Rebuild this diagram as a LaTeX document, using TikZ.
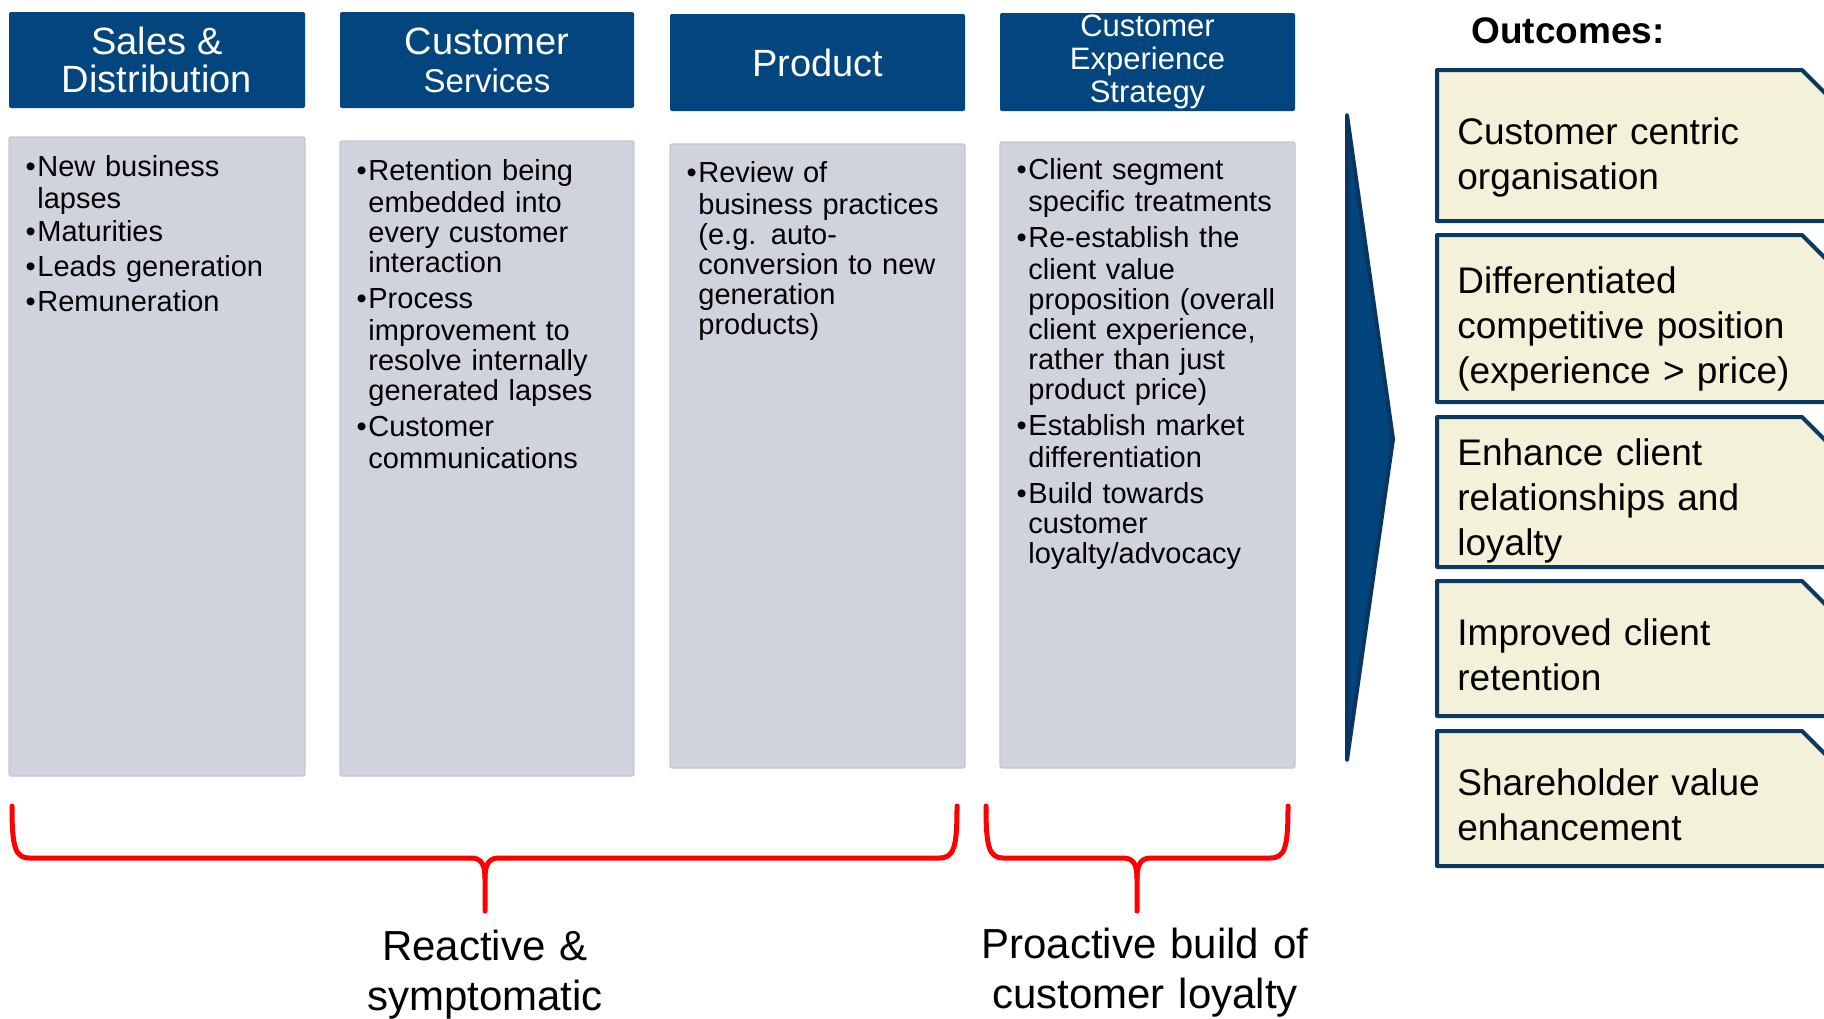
\documentclass[tikz,border=0pt]{standalone}
\usepackage{fontspec}
\setmainfont{Liberation Sans}

\definecolor{hdrblue}{HTML}{03467F}
\definecolor{bodygray}{HTML}{D0D3DD}
\definecolor{bodyedge}{HTML}{C4C7D1}
\definecolor{cream}{HTML}{F3F1D8}
\definecolor{navyline}{HTML}{0C3962}
\definecolor{arrowfill}{HTML}{02457D}
\definecolor{arrowline}{HTML}{0B3561}
\definecolor{bracered}{HTML}{FF0000}

% one bullet paragraph with a hanging indent
\newcommand\bitem[1]{\noindent\hangindent=14pt\hangafter=1\makebox[14pt][r]{\textbullet\hspace{0.8pt}}\strut#1\par}

\begin{document}
\begin{tikzpicture}[x=0.5pt,y=-0.5pt,
  hdr/.style={fill=hdrblue, rounded corners=1pt, inner sep=0pt, text=white,
    align=center, font=\fontsize{19}{19}\selectfont},
  colbox/.style={fill=bodygray, draw=bodyedge, line width=0.6pt, rounded corners=1pt, inner sep=0pt},
  bullets/.style={anchor=north west, inner sep=0pt, text width=150pt,
    font=\fontsize{14.5}{15}\selectfont},
  outbox/.style={fill=cream, draw=navyline, line width=2pt, line join=round},
  outtext/.style={anchor=north west, inner sep=0pt, text width=185pt,
    font=\fontsize{18.5}{22.5}\selectfont},
  bracepath/.style={draw=bracered, line width=2.5pt, line cap=round, line join=round},
  bracelabel/.style={anchor=north, inner sep=0pt, text width=200pt, align=center,
    font=\fontsize{21}{25}\selectfont}]

\useasboundingbox (0,0) rectangle (1824,1018);
\fill[white] (0,0) rectangle (1824,1018);
\clip (0,0) rectangle (1824,1018);

% column headers
\node[hdr, minimum width=148pt, minimum height=48pt] (h1) at (157,60) {Sales \&\\Distribution};
\node[hdr, minimum width=147pt, minimum height=48pt] (h2) at (487,60)
  {Customer\\\fontsize{16.5}{17}\selectfont Services};
\node[hdr, minimum width=147.5pt, minimum height=48.5pt] (h3) at (817.5,62.5) {Product};
\node[hdr, minimum width=147.5pt, minimum height=49pt, font=\fontsize{15.5}{16.5}\selectfont]
  (h4) at (1147.5,62) {Customer\\Experience\\Strategy};

% column bodies
\node[colbox, minimum width=148pt, minimum height=319.5pt] (b1) at (157,456.5) {};
\node[colbox, minimum width=147pt, minimum height=317.5pt] (b2) at (487,458.5) {};
\node[colbox, minimum width=147.5pt, minimum height=312pt] (b3) at (817.5,456) {};
\node[colbox, minimum width=147.5pt, minimum height=313pt] (b4) at (1147.5,455) {};

\node[bullets] (t1) at (9,155) {\setlength{\parskip}{1.5pt}%
  \bitem{New business\newline lapses}%
  \bitem{Maturities}%
  \bitem{Leads generation}%
  \bitem{Remuneration}};
\node[bullets] (t2) at (340,159) {\setlength{\parskip}{3pt}%
  \bitem{Retention being\newline embedded into\newline every customer\newline interaction}%
  \bitem{Process\newline improvement to\newline resolve internally\newline generated lapses}%
  \bitem{Customer\newline communications}};
\node[bullets] (t3) at (670,161) {\setlength{\parskip}{3pt}%
  \bitem{Review of\newline business practices\newline (e.g. auto-\newline conversion to new\newline generation\newline products)}};
\node[bullets] (t4) at (1000,158) {\setlength{\parskip}{3pt}%
  \bitem{Client segment\newline specific treatments}%
  \bitem{Re-establish the\newline client value\newline proposition (overall\newline client experience,\newline rather than just\newline product price)}%
  \bitem{Establish market\newline differentiation}%
  \bitem{Build towards\newline customer\newline loyalty/advocacy}};

% arrow towards the outcomes
\filldraw[fill=arrowfill, draw=arrowline, line width=2pt, line join=round]
  (1347,115) -- (1393,439) -- (1347,760) -- cycle;

% outcomes
\node[anchor=base, inner sep=0pt, font=\bfseries\fontsize{18.5}{20}\selectfont] (otitle) at (1568,43) {Outcomes:};

\draw[outbox] (1437,70) -- (1802,70) -- (1852,120) -- (1852,221) -- (1437,221) -- cycle;
\draw[outbox] (1437,235) -- (1802,235) -- (1852,285) -- (1852,402) -- (1437,402) -- cycle;
\draw[outbox] (1437,417) -- (1802,417) -- (1852,467) -- (1852,567) -- (1437,567) -- cycle;
\draw[outbox] (1437,581) -- (1802,581) -- (1852,631) -- (1852,716) -- (1437,716) -- cycle;
\draw[outbox] (1437,731) -- (1802,731) -- (1852,781) -- (1852,866) -- (1437,866) -- cycle;

\node[outtext] (o1) at (1457,112.5) {\strut Customer centric\newline organisation};
\node[outtext] (o2) at (1457,261.5) {\strut Differentiated\newline competitive position\newline (experience > price)};
\node[outtext] (o3) at (1457,433.5) {\strut Enhance client\newline relationships and\newline loyalty};
\node[outtext] (o4) at (1457,613.5) {\strut Improved client\newline retention};
\node[outtext] (o5) at (1457,763.5) {\strut Shareholder value\newline enhancement};

% grouping braces
\coordinate (ra) at (12,806);
\coordinate (rm) at (485,878);
\coordinate (rt) at (485,911);
\coordinate (rb) at (957,806);
\draw[bracepath] (ra) .. controls (12,848) and (15,858) .. (30,858) -- (471,858)
  .. controls (481,858) and (485,864) .. (rm) -- (rt);
\draw[bracepath] (rm) .. controls (485,864) and (489,858) .. (499,858) -- (939,858)
  .. controls (954,858) and (957,848) .. (rb);

\coordinate (pa) at (986,806);
\coordinate (pm) at (1137,878);
\coordinate (pt) at (1137,911);
\coordinate (pb) at (1288,806);
\draw[bracepath] (pa) .. controls (986,848) and (989,858) .. (1004,858) -- (1123,858)
  .. controls (1133,858) and (1137,864) .. (pm) -- (pt);
\draw[bracepath] (pm) .. controls (1137,864) and (1141,858) .. (1151,858) -- (1270,858)
  .. controls (1285,858) and (1288,848) .. (pb);

\node[bracelabel] (lr) at (485,925) {\strut Reactive \&\\symptomatic};
\node[bracelabel] (lp) at (1145,923) {\strut Proactive build of\\customer loyalty};

\end{tikzpicture}
\end{document}
